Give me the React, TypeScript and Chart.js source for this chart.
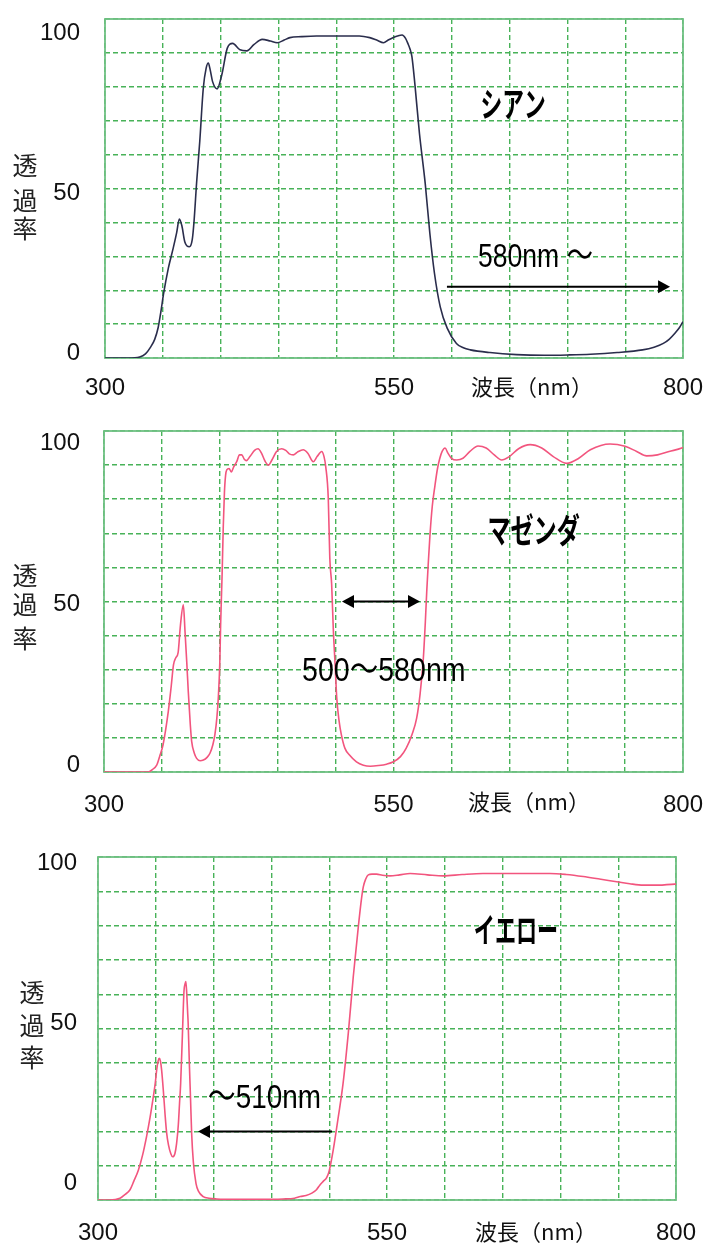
import React, { useEffect, useRef } from 'react';
import { Chart, registerables } from 'chart.js';

Chart.register(...registerables);

// ---------- data ----------
const xTickLabels = [300, 550, 800];
const yTickLabels = [0, 50, 100];

const cyanWavelength = [300, 320, 330, 335, 339, 343, 346, 348.5, 350.5, 354.8, 359, 362, 364.3, 366.5, 369, 373, 375.5, 377, 379.3, 382, 385, 387.5, 389.4, 391, 393, 397, 401, 405.8, 410.4, 416.8, 422.6, 429, 436, 443, 449, 455, 460, 470, 483, 500, 520, 529, 535, 541, 545, 549, 553, 557, 560, 562, 564, 565.5, 568, 572, 577, 581, 585, 590, 596, 604, 610, 616, 633, 656, 680, 700, 720, 743, 765, 775, 783, 788, 793, 797, 800];
const cyanTransmittance = [0, 0, 0.3, 1.2, 3, 5.5, 9, 14, 18.6, 26.5, 32.4, 37, 41, 39, 34.3, 32.8, 35, 40.2, 52, 64, 79.5, 85.5, 87, 85, 81.6, 79.4, 83.5, 91.4, 92.8, 90.9, 90.6, 92.5, 94, 93.5, 93, 93.8, 94.5, 94.8, 95, 95, 95, 94.5, 93.8, 93, 93.8, 94.5, 95, 95.3, 94.3, 92.8, 91, 88.9, 81, 66.3, 51.5, 36.8, 25, 15.1, 8.8, 4.3, 3, 2.4, 1.6, 1, 0.8, 0.9, 1.1, 1.6, 2.4, 3.2, 4.3, 5.5, 7.3, 9, 10.7];

const magentaWavelength = [300, 320, 338, 342, 345.5, 348, 351, 355.5, 358, 360, 362, 364, 366, 368.5, 370, 371.5, 372.8, 374.5, 375.7, 378, 380, 383, 385.8, 389, 391.5, 394, 395.8, 397.5, 398.7, 400, 400.7, 402, 403, 404, 405, 406, 408, 410, 412, 414.6, 417, 419, 421, 423, 426, 430, 433, 436, 439, 442, 445, 449, 453.5, 457, 460, 463.5, 467, 472, 476, 480.7, 484, 488, 490, 491.5, 493.7, 495, 496.6, 498, 499.5, 501, 503, 505, 508, 512, 518, 524, 530, 537, 544, 550, 556, 561, 566, 570, 573, 575.7, 577.5, 578.7, 580, 581.5, 583.5, 585.8, 588, 590, 592, 594.5, 597, 600, 604.6, 610, 616, 623, 630, 637, 643.4, 650, 658, 668, 678, 688, 699.5, 710, 720, 737, 750, 760, 768.6, 778, 788, 798.9, 800];
const magentaTransmittance = [0, 0, 0, 0.8, 2, 4.5, 8, 17.7, 25, 31.4, 33.5, 35, 43, 49, 41, 32, 23.5, 14, 9, 5.5, 4, 3.3, 3.5, 4.3, 5.5, 8, 11, 16, 21.7, 32, 43, 58, 72, 82, 87, 88.6, 89, 88, 89.5, 91, 93, 93, 91.8, 91.3, 92.5, 94.3, 94.8, 93.5, 91.2, 90, 91.5, 94, 94.8, 94.3, 93.3, 93, 93.8, 94.5, 93.5, 91, 92.5, 94, 92.5, 89.5, 80, 62.7, 55, 42, 32, 21.7, 15, 10.9, 7, 5, 3, 2, 1.7, 1.9, 2.3, 3, 4.5, 7, 11, 15.8, 23, 33, 44, 52.9, 61, 69.5, 78, 84, 89, 92, 94, 95, 93.5, 92, 91.5, 92, 94, 95.6, 95, 93, 91.5, 92.5, 94.8, 96, 95, 92.5, 90.5, 92, 94.5, 96.2, 95.5, 94, 92.7, 93, 94, 95, 95.2];

const yellowWavelength = [300, 310, 319, 323, 327.7, 331, 334.9, 338.5, 342, 345, 347.8, 349.5, 350.8, 352, 353, 354, 355, 356.5, 358, 359.4, 361, 363, 364.6, 366.5, 368, 369.5, 370.5, 371.5, 373, 374.4, 375.3, 376, 376.8, 377.5, 378, 379, 380, 381, 382.5, 384.8, 387, 391, 396, 402.7, 420, 440, 460, 470, 475, 480, 485, 489, 492, 495, 497.8, 500, 503.5, 507.9, 512, 516.5, 520.8, 525.2, 528, 529.5, 531.5, 533.8, 537, 541, 546, 552.6, 561, 570, 585, 598.7, 615, 633, 660, 691, 705, 719.8, 735, 748.7, 760, 771.7, 785, 799, 800];
const yellowTransmittance = [0, 0, 0.5, 1.5, 3, 5.5, 8.7, 13, 18.5, 24, 30, 34, 38, 40.5, 41.3, 40.5, 38, 32, 25, 19.5, 16, 13.5, 12.6, 13.5, 16.5, 22, 28, 34, 48, 61, 63, 63.7, 60, 55, 51.5, 40, 30, 19.5, 11, 4.8, 2.5, 1, 0.5, 0.3, 0.2, 0.2, 0.3, 0.5, 1, 1.3, 2, 3, 4.4, 5.5, 6.5, 8.5, 14.6, 24.3, 34, 48.6, 65, 79.7, 88, 91.3, 93.5, 94.8, 95, 95, 94.7, 94.5, 94.8, 95.2, 94.8, 94.5, 94.9, 95.2, 95.2, 95.2, 94.9, 94.3, 93.5, 92.8, 92.2, 91.8, 91.8, 92.1, 92.1];

// ---------- layout / style ----------
const W = 708;
const gridColor = 'rgb(72,178,88)';
const frameColor = '#6fc083';
const numFont = '"Liberation Sans", Arial, "Noto Sans CJK JP", sans-serif';
const cjkFont = '"Noto Sans CJK JP", "Noto Sans", sans-serif';

type Arrow = { from: number; to: number; y: number; start: boolean; end: boolean };
type Panel = {
  top: number;
  height: number;
  area: { left: number; top: number; right: number; bottom: number };
  wl: number[];
  t: number[];
  color: string;
  labelMin: number;
  labelMax: number;
  xLabelPad: number;
  yLabelPad: number;
  name: { text: string; x: number; y: number; sx: number };
  note: { text: string; x: number; y: number; sx: number };
  arrow: Arrow;
  axisTitle: { x: number; y: number };
  yTitle: { x: number; y: number[] };
};

const panels: Panel[] = [
  {
    top: 0, height: 410,
    area: { left: 105, top: 19, right: 683, bottom: 358 },
    wl: cyanWavelength, t: cyanTransmittance, color: '#2a2d4c',
    labelMin: -1.5625, labelMax: 104.375, xLabelPad: 15.6, yLabelPad: 25,
    name: { text: 'シアン', x: 653, y: 75, sx: 0.64 },
    note: { text: '580nm ～', x: 622.7, y: 29.5, sx: 0.78 },
    arrow: { from: 595.8, to: 788.8, y: 21, start: false, end: true },
    axisTitle: { x: 532, y: 387 },
    yTitle: { x: 25, y: [165, 200, 228] },
  },
  {
    top: 410, height: 410,
    area: { left: 104, top: 21, right: 683, bottom: 362 },
    wl: magentaWavelength, t: magentaTransmittance, color: '#f2557e',
    labelMin: -2.17, labelMax: 103.73, xLabelPad: 18.6, yLabelPad: 24,
    name: { text: 'マゼンダ', x: 671, y: 71, sx: 0.68 },
    note: { text: '500〜580nm', x: 471, y: 29.3, sx: 0.84 },
    arrow: { from: 505.5, to: 572.9, y: 50, start: true, end: true },
    axisTitle: { x: 529, y: 392 },
    yTitle: { x: 25, y: [165, 194, 228] },
  },
  {
    top: 820, height: 426,
    area: { left: 98, top: 37, right: 676, bottom: 380 },
    wl: yellowWavelength, t: yellowTransmittance, color: '#f2557e',
    labelMin: -5.3125, labelMax: 101.875, xLabelPad: 18.6, yLabelPad: 21,
    name: { text: 'イエロー', x: 661.6, y: 78.7, sx: 0.62 },
    note: { text: '〜510nm', x: 395, y: 29.7, sx: 0.82 },
    arrow: { from: 502.4, to: 386.5, y: 20, start: false, end: true },
    axisTitle: { x: 536, y: 412 },
    yTitle: { x: 32, y: [172, 205, 237] },
  },
];

function head(ctx: CanvasRenderingContext2D, tipX: number, y: number, dir: number) {
  ctx.beginPath();
  ctx.moveTo(tipX, y);
  ctx.lineTo(tipX - dir * 12, y - 6.5);
  ctx.lineTo(tipX - dir * 12, y + 6.5);
  ctx.closePath();
  ctx.fill();
}

function makePlugin(p: Panel) {
  return {
    id: 'decor',
    beforeDatasetsDraw(chart: any) {
      const { ctx, chartArea } = chart;
      ctx.save();
      ctx.strokeStyle = frameColor;
      ctx.lineWidth = 1.8;
      ctx.strokeRect(chartArea.left, chartArea.top, chartArea.right - chartArea.left, chartArea.bottom - chartArea.top);
      ctx.restore();
    },
    afterDatasetsDraw(chart: any) {
      const { ctx } = chart;
      const xs = chart.scales.x;
      const ys = chart.scales.y;
      ctx.save();
      ctx.fillStyle = '#000';
      ctx.strokeStyle = '#000';
      ctx.textBaseline = 'middle';

      // filter name
      ctx.save();
      ctx.font = `bold 34px ${cjkFont}`;
      ctx.translate(xs.getPixelForValue(p.name.x), ys.getPixelForValue(p.name.y));
      ctx.scale(p.name.sx, 1);
      ctx.textAlign = 'center';
      ctx.fillText(p.name.text, 0, 0);
      ctx.restore();

      // wavelength note
      ctx.save();
      ctx.font = `34px ${numFont}`;
      ctx.translate(xs.getPixelForValue(p.note.x), ys.getPixelForValue(p.note.y));
      ctx.scale(p.note.sx, 1);
      ctx.textAlign = 'left';
      ctx.fillText(p.note.text, 0, 0);
      ctx.restore();

      // arrow
      const a = p.arrow;
      const x1 = xs.getPixelForValue(a.from);
      const x2 = xs.getPixelForValue(a.to);
      const ay = ys.getPixelForValue(a.y);
      const dir = Math.sign(x2 - x1);
      ctx.lineWidth = 2;
      ctx.beginPath();
      ctx.moveTo(a.start ? x1 + dir * 10 : x1, ay);
      ctx.lineTo(a.end ? x2 - dir * 10 : x2, ay);
      ctx.stroke();
      if (a.end) head(ctx, x2, ay, dir);
      if (a.start) head(ctx, x1, ay, -dir);

      // axis titles
      ctx.font = `22px ${cjkFont}`;
      ctx.fillStyle = '#111';
      ctx.textAlign = 'center';
      ctx.fillText('波長（nm）', p.axisTitle.x, p.axisTitle.y);
      ctx.font = `25px ${cjkFont}`;
      ctx.fillStyle = '#222';
      const chars = ['透', '過', '率'];
      chars.forEach((c, i) => ctx.fillText(c, p.yTitle.x, p.yTitle.y[i]));
      ctx.restore();
    },
  };
}

function buildConfig(p: Panel): any {
  const tickFont = { family: numFont, size: 24 };
  return {
    type: 'line',
    data: {
      datasets: [
        {
          data: p.wl.map((x, i) => ({ x, y: p.t[i] })),
          borderColor: p.color,
          borderWidth: 1.6,
          pointRadius: 0,
          fill: false,
          cubicInterpolationMode: 'monotone',
        },
      ],
    },
    options: {
      responsive: false,
      animation: false,
      layout: { padding: { left: 0, top: p.area.top, right: W - p.area.right, bottom: 0 } },
      plugins: { legend: { display: false }, tooltip: { enabled: false } },
      scales: {
        x: {
          type: 'linear',
          position: 'bottom',
          min: 300,
          max: 800,
          ticks: {
            stepSize: 50,
            autoSkip: false,
            maxRotation: 0,
            padding: p.xLabelPad,
            color: '#111',
            font: tickFont,
            callback: (v: number) => (xTickLabels.includes(v) ? String(v) : ''),
          },
          grid: { color: gridColor, lineWidth: 1.4, drawTicks: false },
          border: { display: false, dash: [5, 3] },
          afterFit: (s: any) => {
            s.height = p.height - p.area.bottom;
            s.paddingLeft = 0;
            s.paddingRight = 0;
          },
        },
        y: {
          type: 'linear',
          position: 'left',
          min: 0,
          max: 100,
          ticks: { display: false, stepSize: 10 },
          grid: { color: gridColor, lineWidth: 1.4, drawTicks: false },
          border: { display: false, dash: [5, 3] },
          afterFit: (s: any) => {
            s.width = 0;
            s.paddingTop = 0;
            s.paddingBottom = 0;
          },
        },
        yl: {
          type: 'linear',
          position: 'left',
          min: p.labelMin,
          max: p.labelMax,
          afterBuildTicks: (s: any) => {
            s.ticks = yTickLabels.map((v) => ({ value: v }));
          },
          ticks: { padding: p.yLabelPad, color: '#111', font: tickFont },
          grid: { display: false, drawTicks: false },
          border: { display: false },
          afterFit: (s: any) => {
            s.width = p.area.left;
            s.paddingTop = 0;
            s.paddingBottom = 0;
          },
        },
      },
    },
    plugins: [makePlugin(p)],
  };
}

export default function App() {
  const refs = useRef<(HTMLCanvasElement | null)[]>([]);

  useEffect(() => {
    const charts = panels.map((p, i) => new Chart(refs.current[i] as HTMLCanvasElement, buildConfig(p)));
    return () => charts.forEach((c) => c.destroy());
  }, []);

  return (
    <div style={{ position: 'absolute', left: 0, top: 0, width: W, height: 1246, background: '#fff' }}>
      {panels.map((p, i) => (
        <canvas
          key={i}
          ref={(el) => {
            refs.current[i] = el;
          }}
          width={W}
          height={p.height}
          style={{ position: 'absolute', left: 0, top: p.top, width: W, height: p.height, display: 'block' }}
        />
      ))}
    </div>
  );
}
